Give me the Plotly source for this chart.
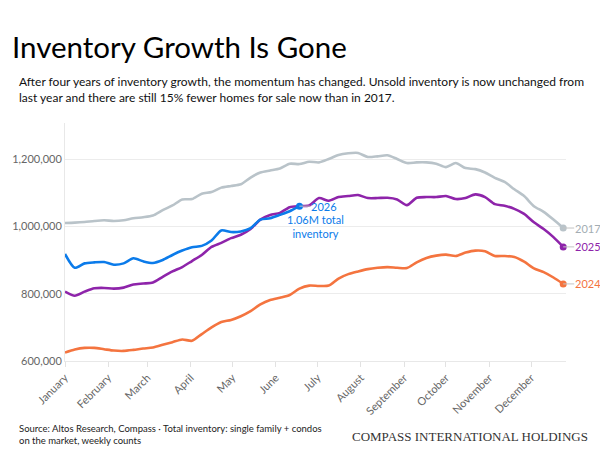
import plotly.graph_objects as go

# ---- data (weekly counts, thousands of homes) ----
weeks = list(range(52))
months = ["January", "February", "March", "April", "May", "June", "July",
          "August", "September", "October", "November", "December"]
month_start_days = [0, 31, 59, 90, 120, 151, 181, 212, 243, 273, 304, 334]

inv_2017 = [1010, 1011, 1013, 1016, 1018, 1016, 1018, 1024, 1027, 1032,
            1048, 1062, 1080, 1081, 1097, 1102, 1115, 1120, 1125, 1145,
            1160, 1166, 1172, 1186, 1185, 1192, 1190, 1200, 1212, 1217,
            1218, 1206, 1208, 1211, 1200, 1188, 1190, 1190, 1186, 1176,
            1188, 1173, 1170, 1160, 1144, 1132, 1110, 1090, 1060, 1043,
            1020, 995]
inv_2024 = [625, 634, 639, 639, 635, 631, 630, 633, 637, 640,
            648, 656, 664, 660, 680, 700, 716, 722, 733, 748,
            768, 781, 788, 796, 815, 824, 823, 824, 845, 858,
            866, 873, 877, 879, 877, 876, 893, 906, 913, 916,
            912, 922, 928, 926, 912, 912, 909, 895, 875, 864,
            848, 829]
inv_2025 = [806, 794, 806, 816, 817, 815, 818, 827, 830, 833,
            850, 866, 879, 897, 915, 939, 951, 965, 975, 992,
            1020, 1034, 1040, 1057, 1060, 1062, 1084, 1076, 1087, 1090,
            1093, 1084, 1084, 1085, 1080, 1063, 1085, 1087, 1087, 1090,
            1081, 1084, 1095, 1087, 1066, 1061, 1052, 1037, 1012, 992,
            968, 939]
inv_2026 = [918, 877, 890, 893, 894, 886, 890, 905, 896, 891,
            900, 915, 928, 938, 942, 958, 988, 983, 985, 995,
            1020, 1024, 1034, 1045, 1060]

y_ticks = [600000, 800000, 1000000, 1200000]

# ---- styling ----
FONT = "Lato"
C2017, C2024, C2025, C2026 = "#b9c3c9", "#f4743f", "#8e24aa", "#0b7bea"
L2017 = "#a3adb3"

def days(n):
    return [7 * w for w in weeks[:n]]

def vals(s):
    return [v * 1000 for v in s]

fig = go.Figure()
series = [("2017", inv_2017, C2017), ("2024", inv_2024, C2024),
          ("2025", inv_2025, C2025), ("2026", inv_2026, C2026)]
for name, s, c in series:
    x = days(len(s))
    y = vals(s)
    fig.add_trace(go.Scatter(x=x, y=y, mode="lines", name=name,
                             line=dict(color=c, width=2.6, shape="spline", smoothing=0.7),
                             hoverinfo="skip", showlegend=False))
for name, s, c in series:
    x = days(len(s))
    y = vals(s)
    fig.add_trace(go.Scatter(x=[x[-1]], y=[y[-1]], mode="markers",
                             marker=dict(color=c, size=7), hoverinfo="skip",
                             showlegend=False, cliponaxis=False))

# end labels with short connectors
label_cols = {"2017": L2017, "2024": C2024, "2025": C2025, "2026": C2026}
for name, s, c in series:
    x = days(len(s))
    y = vals(s)
    fig.add_annotation(x=x[-1], y=y[-1], xref="x", yref="y", text=name,
                       showarrow=True, arrowhead=0, arrowwidth=1, arrowcolor="#c4c4c4",
                       ax=11, ay=0, xanchor="left", standoff=0, borderpad=0,
                       font=dict(family=FONT, size=11, color=label_cols[name]))

fig.add_annotation(x=days(len(inv_2026))[-1], y=inv_2026[-1] * 1000, xref="x", yref="y",
                   text="1.06M total<br>inventory", showarrow=False,
                   xshift=16, yshift=-20, align="center",
                   font=dict(family=FONT, size=11, color=C2026))

# ---- layout (pixel helpers for text placement) ----
W, H = 600, 460
L, R, T, B = 60, 34, 123, 99
PW, PH = W - L - R, H - T - B

def px(xp):
    return (xp - L) / PW

def py(yp):
    return (H - B - yp) / PH

fig.add_annotation(xref="paper", yref="paper", x=px(12), y=py(89), xanchor="left",
                   yanchor="middle", align="left", showarrow=False,
                   text="After four years of inventory growth, the momentum has changed. Unsold inventory is now unchanged from<br>"
                        "last year and there are still 15% fewer homes for sale now than in 2017.",
                   font=dict(family=FONT, size=12, color="#111"))
fig.add_annotation(xref="paper", yref="paper", x=px(12), y=py(434), xanchor="left",
                   yanchor="middle", align="left", showarrow=False,
                   text="Source: Altos Research, Compass · Total inventory: single family + condos<br>on the market, weekly counts",
                   font=dict(family=FONT, size=9.5, color="#222"))
fig.add_annotation(xref="paper", yref="paper", x=px(590), y=py(436), xanchor="right",
                   yanchor="middle", showarrow=False,
                   text="COMPASS INTERNATIONAL HOLDINGS",
                   font=dict(family="Liberation Serif", size=13, color="#333"))

fig.update_layout(
    width=W, height=H, margin=dict(l=L, r=R, t=T, b=B),
    paper_bgcolor="white", plot_bgcolor="white",
    title=dict(text="Inventory Growth Is Gone", x=12 / W, xanchor="left",
               y=1 - 48 / H, yanchor="middle", xref="container", yref="container",
               font=dict(family=FONT, size=29.5, color="#000")),
    font=dict(family=FONT),
    xaxis=dict(range=[0, 359], tickvals=month_start_days, ticktext=months,
               tickangle=-45, showgrid=False, showline=True, linecolor="#e8e8e8",
               linewidth=1, ticks="outside", ticklen=5, tickcolor="#e2e2e2",
               tickfont=dict(family=FONT, size=11, color="#666"), zeroline=False),
    yaxis=dict(range=[600000, 1307000], tickvals=y_ticks, tickformat=",",
               showgrid=True, gridcolor="#ececec", showline=True, linecolor="#e8e8e8",
               zeroline=False, ticks="", tickfont=dict(family=FONT, size=11, color="#666")),
)

fig.write_html("out.html")
